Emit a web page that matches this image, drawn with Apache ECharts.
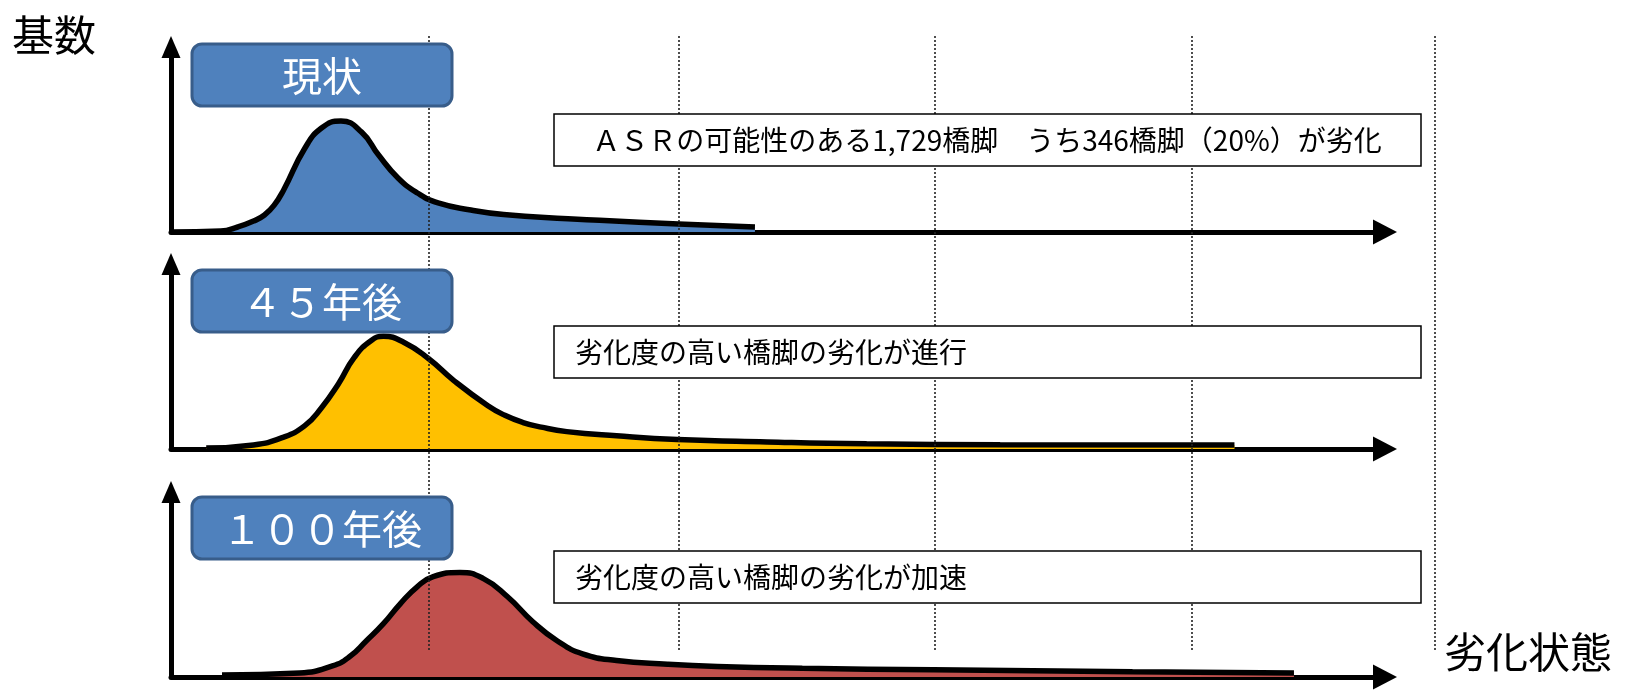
<!DOCTYPE html>
<html>
<head>
    <meta charset="utf-8">
    <title>ASR 劣化状態</title>
    <script src="https://cdn.jsdelivr.net/npm/echarts@6/dist/echarts.min.js"></script>
    <style type="text/css">
        html, body { margin: 0; padding: 0; background: #fff; }
        #main { width: 1629px; height: 691px; }
    </style>
</head>
<body>
<div id="main"></div>
<script type="text/javascript">
    // 劣化状態 (x, 0-100) と 基数 (y, 0-100) : 図から読み取った相対値
    var nowData = [[0, 0], [4.1, 0.5], [5.5, 2.7], [6.8, 5.9], [7.7, 9.2], [8.5, 14.5], [9.3, 23],
        [11.0, 45], [12.4, 56.2], [14.0, 60], [15.7, 54], [17.1, 41.6], [18.7, 29.2], [20.3, 21.1],
        [22.0, 15.7], [24.7, 11.9], [27.4, 9.4], [32.7, 7.1], [35.3, 6.3], [41.8, 4.3], [48.1, 2.7]];
    var after45Data = [[2.9, 0.5], [6.8, 2.2], [9.1, 6], [11.0, 12.5], [12.4, 22.3], [13.8, 35.3],
        [15.1, 49.5], [16.5, 58.7], [17.5, 60.9], [19.2, 57.6], [21.2, 48.9], [23.3, 37], [26.1, 23.4],
        [27.5, 18.2], [29.0, 14.3], [30.5, 11.8], [32.6, 9.4], [36.7, 7.1], [41.7, 5.1], [49.1, 3.8],
        [57.3, 2.8], [68.3, 2.3], [87.6, 2.2]];
    var after100Data = [[4.2, 1.1], [10.6, 2.2], [13.3, 6], [14.7, 10.9], [16.1, 19.6], [17.5, 28.8],
        [18.9, 39.7], [20.3, 48.9], [21.6, 54.3], [23.8, 56.5], [25.7, 53.3], [27.7, 43.5], [29.8, 29.9],
        [31.8, 19.6], [33.9, 12.5], [36.7, 8.9], [40.9, 6.9], [45.0, 5.7], [52.0, 4.7], [62.8, 3.9],
        [79.2, 2.8], [92.5, 2.2]];
    var panelTitles = ['現状', '４５年後', '１００年後'];
    var panelNotes = ['ＡＳＲの可能性のある1,729橋脚　うち346橋脚（20%）が劣化',
        '劣化度の高い橋脚の劣化が進行',
        '劣化度の高い橋脚の劣化が加速'];
    // 点線の位置 (劣化状態の区切り)
    var stageBounds = [21.25, 41.8, 62.9, 84.1, 104.1];
    var yName = '基数';
    var xName = '劣化状態';

    var FONT = '"Noto Sans CJK JP", "Noto Sans", sans-serif';
    var seriesData = [nowData, after45Data, after100Data];
    var fills = ['#4F81BD', '#FFC000', '#C0504D'];
    var panelTops = [47, 264, 492];
    var titleBoxTops = [44, 270, 497];
    var noteBoxTops = [114, 326, 551];

    var myChart = echarts.init(document.getElementById('main'));

    var grids = [], xAxes = [], yAxes = [], series = [], elements = [];
    for (var i = 0; i < 3; i++) {
        grids.push({left: 171, top: panelTops[i], width: 1214, height: 185});
        xAxes.push({
            type: 'value', gridIndex: i, min: 0, max: 100,
            axisLine: {show: true, onZero: false, symbol: ['none', 'triangle'], symbolSize: [25, 24],
                lineStyle: {color: '#000', width: 5}},
            axisTick: {show: false}, axisLabel: {show: false}, splitLine: {show: false}
        });
        yAxes.push({
            type: 'value', gridIndex: i, min: 0, max: 100,
            axisLine: {show: true, symbol: ['none', 'triangle'], symbolSize: [19, 22],
                lineStyle: {color: '#000', width: 5}},
            axisTick: {show: false}, axisLabel: {show: false}, splitLine: {show: false}
        });
        series.push({
            type: 'line', xAxisIndex: i, yAxisIndex: i,
            data: seriesData[i],
            smooth: 0.5,
            symbol: 'none',
            silent: true,
            z: 3,
            lineStyle: {color: '#000', width: 5.5},
            areaStyle: {color: fills[i], opacity: 1}
        });

        // タイトルの箱
        elements.push({
            type: 'rect', z: 10,
            shape: {x: 192, y: titleBoxTops[i], width: 260, height: 62, r: 10},
            style: {fill: '#4F81BD', stroke: '#385D8A', lineWidth: 3}
        });
        elements.push({
            type: 'text', z: 11, x: 322, y: titleBoxTops[i] + 32,
            style: {text: panelTitles[i], fill: '#fff', font: '40px ' + FONT,
                textAlign: 'center', textVerticalAlign: 'middle'}
        });
        // 説明の箱
        elements.push({
            type: 'rect', z: 10,
            shape: {x: 554, y: noteBoxTops[i], width: 867, height: 52},
            style: {fill: '#fff', stroke: '#000', lineWidth: 1.5}
        });
        elements.push({
            type: 'text', z: 11,
            x: i === 0 ? 987 : 575, y: noteBoxTops[i] + 26,
            style: {text: panelNotes[i], fill: '#000', font: '28px ' + FONT,
                textAlign: i === 0 ? 'center' : 'left', textVerticalAlign: 'middle'}
        });
    }

    // 点線用の背景グリッド
    grids.push({left: 171, top: 34, width: 1264, height: 616});
    xAxes.push({type: 'value', gridIndex: 3, min: 0, max: 104.1, show: false});
    yAxes.push({type: 'value', gridIndex: 3, min: 0, max: 1, show: false});
    series.push({
        type: 'line', xAxisIndex: 3, yAxisIndex: 3, data: [[0, 0]],
        symbol: 'none', silent: true, z: 1,
        lineStyle: {opacity: 0},
        markLine: {
            symbol: 'none', silent: true, animation: false,
            label: {show: false},
            lineStyle: {type: [2, 2], color: '#222', width: 1.6},
            data: stageBounds.map(function (v) { return {xAxis: v}; })
        }
    });

    elements.push({
        type: 'text', z: 11, x: 12, y: 35,
        style: {text: yName, fill: '#000', font: '42px ' + FONT, textVerticalAlign: 'middle'}
    });
    elements.push({
        type: 'text', z: 11, x: 1444, y: 652,
        style: {text: xName, fill: '#000', font: '42px ' + FONT, textVerticalAlign: 'middle'}
    });

    var option = {
        backgroundColor: '#fff',
        animation: false,
        grid: grids,
        xAxis: xAxes,
        yAxis: yAxes,
        series: series,
        graphic: {elements: elements}
    };
    myChart.setOption(option);
</script>
</body>
</html>
